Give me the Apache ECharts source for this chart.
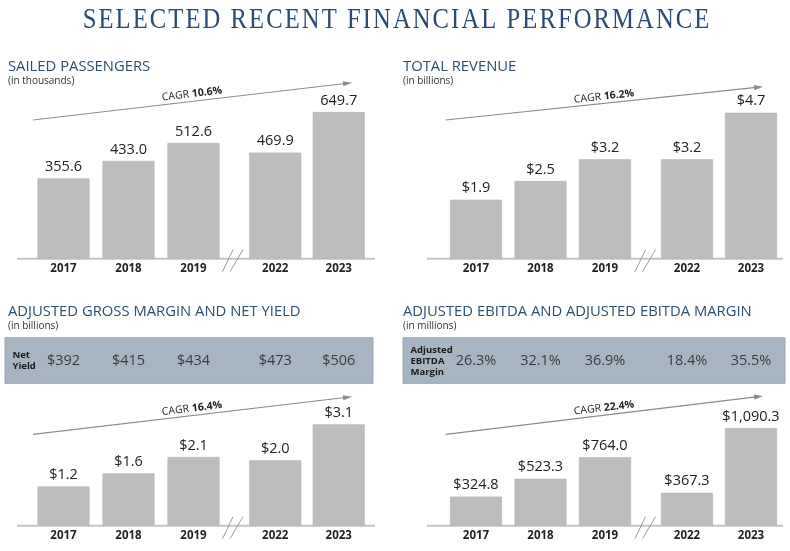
<!DOCTYPE html>
<html>
<head>
<meta charset="utf-8">
<script src="https://cdn.jsdelivr.net/npm/echarts@6/dist/echarts.min.js"></script>
<style>
html,body{margin:0;padding:0;background:#fff;}
#chart{width:790px;height:551px;}
</style>
</head>
<body>
<div id="chart"></div>
<script>
// ---- data ----
const categories = ['2017', '2018', '2019', '2022', '2023'];
const splitAt = 3; // axis break between 2019 and 2022
const passengers = [355.6, 433.0, 512.6, 469.9, 649.7];
const revenue = [1.9, 2.5, 3.2, 3.2, 4.7];
const grossMargin = [1.2, 1.6, 2.1, 2.0, 3.1];
const ebitda = [324.8, 523.3, 764.0, 367.3, 1090.3];
const netYield = [392, 415, 434, 473, 506];
const ebitdaMargin = [26.3, 32.1, 36.9, 18.4, 35.5];
const cagrLabels = ['10.6%', '16.2%', '16.4%', '22.4%'];
const titles = ['SAILED PASSENGERS', 'TOTAL REVENUE', 'ADJUSTED GROSS MARGIN AND NET YIELD', 'ADJUSTED EBITDA AND ADJUSTED EBITDA MARGIN'];
const units = ['(in thousands)', '(in billions)', '(in billions)', '(in millions)'];
const mainTitle = 'SELECTED RECENT FINANCIAL PERFORMANCE';

const fmt1 = v => v.toFixed(1);
const fmtUsd1 = v => '$' + v.toLocaleString('en-US', {minimumFractionDigits: 1, maximumFractionDigits: 1});

const SANS = "'Open Sans', 'Noto Sans', sans-serif";
const BAR = '#bcbdbf';
const HEAD = '#2b4f77';

// layout per panel
const colL = {a: [31, 195], b: [243.5, 127], axis: [17, 375], brk: 232.5, head: 8, arrow: [33, 352], cagrX: 192};
const colR = {a: [443.75, 193.5], b: [655, 128], axis: [427, 783], brk: 645, head: 403, arrow: [445.7, 763], cagrX: 604};
const panels = [
  {data: passengers, fmt: fmt1, col: colL, top: 100, h: 158.7, max: 703, headY: 66.5, arrowY: [120, 82.7], cagrY: 94},
  {data: revenue, fmt: fmtUsd1, col: colR, top: 100, h: 158.7, max: 5.11, headY: 66.5, arrowY: [120, 86.7], cagrY: 96.5},
  {data: grossMargin, fmt: fmtUsd1, col: colL, top: 400, h: 125.7, max: 3.844, headY: 312, arrowY: [434.3, 396.7], cagrY: 408.5,
   band: {vals: netYield, fmt: v => '$' + v, label: 'Net\nYield', x: [5, 373]}},
  {data: ebitda, fmt: fmtUsd1, col: colR, top: 400, h: 125.7, max: 1403, headY: 312, arrowY: [434.3, 396], cagrY: 408,
   band: {vals: ebitdaMargin, fmt: v => v.toFixed(1) + '%', label: 'Adjusted\nEBITDA\nMargin', x: [403, 785]}}
];

const grid = [], xAxis = [], yAxis = [], series = [], graphic = [];

graphic.push({type: 'text', x: 396, y: 20, scaleX: 0.85,
  style: {text: mainTitle.split('').join('\u200A'), font: "29px 'Liberation Serif', serif", fill: '#2a4b74', align: 'center', verticalAlign: 'middle'}});

panels.forEach((p, pi) => {
  const c = p.col;
  // band background (drawn first, behind)
  if (p.band) {
    graphic.push({type: 'rect', z: -10, shape: {x: p.band.x[0], y: 337.7, width: p.band.x[1] - p.band.x[0], height: 45.6},
      style: {fill: '#a7b4c2', stroke: '#98a7b7', lineWidth: 1}});
    graphic.push({type: 'text', x: p.band.x[0] + 7.5, y: 361,
      style: {text: p.band.label, font: "bold 9.5px " + SANS, fill: '#1a1a1a', verticalAlign: 'middle', lineHeight: 11}});
  }
  // headings
  graphic.push({type: 'text', x: c.head, y: p.headY, style: {text: titles[pi], font: "500 14.8px " + SANS, fill: HEAD, verticalAlign: 'middle'}});
  graphic.push({type: 'text', x: c.head, y: p.headY + 14.5, style: {text: units[pi], font: "10px " + SANS, fill: '#333', verticalAlign: 'middle'}});
  const base = p.top + p.h;
  [['a', 0, splitAt], ['b', splitAt, categories.length]].forEach(([k, s, e]) => {
    const gi = grid.length;
    grid.push({left: c[k][0], width: c[k][1], top: p.top, height: p.h});
    xAxis.push({type: 'category', gridIndex: gi, data: categories.slice(s, e),
      axisLine: {show: false}, axisTick: {show: false},
      axisLabel: {margin: 4, fontFamily: SANS, fontWeight: 'bold', fontSize: 11.5, color: '#222'}});
    yAxis.push({type: 'value', gridIndex: gi, min: 0, max: p.max, show: false, splitLine: {show: false}});
    series.push({type: 'bar', xAxisIndex: gi, yAxisIndex: gi, barWidth: 52, data: p.data.slice(s, e),
      itemStyle: {color: BAR, borderColor: '#b2b3b5', borderWidth: 0.6},
      label: {show: true, position: 'top', distance: 4, fontFamily: SANS, fontSize: 14.5, color: '#222',
        formatter: q => p.fmt(q.value)}, silent: true});
    if (p.band) {
      const bi = grid.length;
      grid.push({left: c[k][0], width: c[k][1], top: 337.7, height: 45.6});
      xAxis.push({type: 'category', gridIndex: bi, data: categories.slice(s, e), show: false});
      yAxis.push({type: 'value', gridIndex: bi, min: -1, max: 1, show: false, splitLine: {show: false}});
      series.push({type: 'scatter', xAxisIndex: bi, yAxisIndex: bi, symbolSize: 1, itemStyle: {color: 'rgba(0,0,0,0)'}, z: 50,
        data: p.band.vals.slice(s, e).map((v, i) => [i, 0]),
        label: {show: true, position: 'inside', fontFamily: SANS, fontSize: 14.5, color: '#1a1a1a',
          formatter: q => p.band.fmt(p.band.vals[s + q.dataIndex])}, silent: true});
    }
  });
  // axis baseline
  graphic.push({type: 'line', shape: {x1: c.axis[0], y1: base, x2: c.axis[1], y2: base}, style: {stroke: '#c4c4c4', lineWidth: 2}});
  // break marks
  const b = c.brk;
  graphic.push({type: 'line', shape: {x1: b - 10, y1: base + 13, x2: b + 0.5, y2: base - 9}, style: {stroke: '#9a9a9a', lineWidth: 1}});
  graphic.push({type: 'line', shape: {x1: b - 2.5, y1: base + 13, x2: b + 10.5, y2: base - 9}, style: {stroke: '#9a9a9a', lineWidth: 1}});
  // CAGR arrow
  const [ax1, ax2] = c.arrow, [ay1, ay2] = p.arrowY;
  const ang = Math.atan2(ay2 - ay1, ax2 - ax1);
  const L = 9, W = 2.6;
  const bx = ax2 - L * Math.cos(ang), by = ay2 - L * Math.sin(ang);
  graphic.push({type: 'line', shape: {x1: ax1, y1: ay1, x2: bx, y2: by}, style: {stroke: '#8c8c8c', lineWidth: 1.2}});
  graphic.push({type: 'polygon', shape: {points: [[ax2, ay2], [bx - W * Math.sin(ang), by + W * Math.cos(ang)], [bx + W * Math.sin(ang), by - W * Math.cos(ang)]]},
    style: {fill: '#8c8c8c'}});
  graphic.push({type: 'text', x: c.cagrX, y: p.cagrY, rotation: -ang,
    style: {text: '{a|CAGR }{b|' + cagrLabels[pi] + '}', align: 'center', verticalAlign: 'middle',
      rich: {a: {font: "10.5px " + SANS, fill: '#222'}, b: {font: "bold 10.5px " + SANS, fill: '#222'}}}});
});

const chart = echarts.init(document.getElementById('chart'), null, {renderer: 'canvas'});
chart.setOption({animation: false, backgroundColor: '#fff', grid, xAxis, yAxis, series,
  graphic: {elements: graphic}});
</script>
</body>
</html>
